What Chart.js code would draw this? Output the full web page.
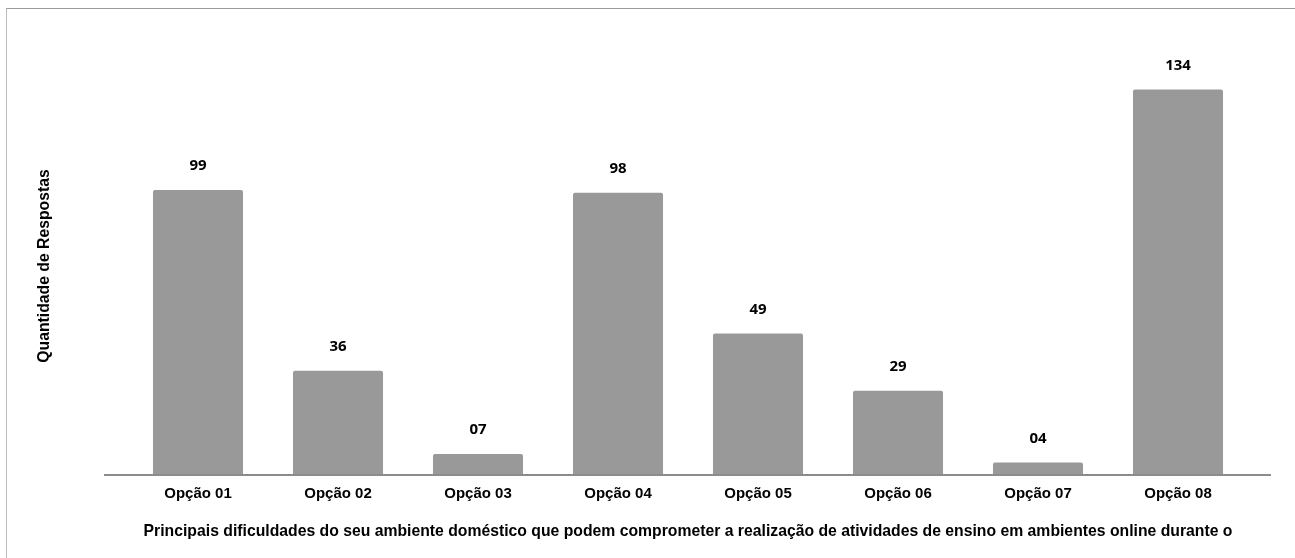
<!DOCTYPE html>
<html>
<head>
<meta charset="utf-8">
<script src="https://cdn.jsdelivr.net/npm/chart.js@4.4.1/dist/chart.umd.min.js"></script>
<style>
  html, body { margin: 0; padding: 0; background: #fff; }
  .wrap { position: relative; width: 1295px; height: 558px; }
  .frame {
    position: absolute; left: 6px; top: 8px; right: 0; bottom: 0;
    border-top: 1px solid #9a9a9a; border-left: 1px solid #bdbdbd;
    pointer-events: none;
  }
</style>
</head>
<body>
<div class="wrap">
  <canvas class="js-chart" width="1295" height="558"></canvas>
  <div class="frame"></div>
</div>
<script>
const ctx = document.querySelector(".js-chart").getContext("2d");

const categories = ["Opção 01", "Opção 02", "Opção 03", "Opção 04", "Opção 05", "Opção 06", "Opção 07", "Opção 08"];
const responses = [99, 36, 7, 98, 49, 29, 4, 134];
const xTitle = "Principais dificuldades do seu ambiente doméstico que podem comprometer a realização de atividades de ensino em ambientes online durante o";
const yTitle = "Quantidade de Respostas";

// value labels above the bars + the grey base line
const barLabels = {
  id: "barLabels",
  afterDatasetsDraw(chart) {
    const c = chart.ctx;
    const area = chart.chartArea;
    c.save();
    c.strokeStyle = "#8c8c8c";
    c.lineWidth = 2;
    c.beginPath();
    c.moveTo(area.left - 24, area.bottom + 1);
    c.lineTo(area.right + 23, area.bottom + 1);
    c.stroke();

    c.fillStyle = "#000";
    c.font = "bold 15px 'Noto Sans'";
    c.textAlign = "center";
    c.textBaseline = "middle";
    chart.getDatasetMeta(0).data.forEach((bar, i) => {
      const text = String(responses[i]).padStart(2, "0");
      c.fillText(text, bar.x, bar.y - 24);
    });
    c.restore();
  },
};

new Chart(ctx, {
  type: "bar",
  data: {
    labels: categories,
    datasets: [
      {
        data: responses,
        backgroundColor: "#999999",
        borderRadius: 2,
        borderSkipped: "bottom",
        barPercentage: 0.643,
        categoryPercentage: 1,
      },
    ],
  },
  options: {
    responsive: false,
    animation: false,
    layout: { padding: { left: 30, right: 47, top: 58, bottom: 16.5 } },
    plugins: {
      legend: { display: false },
      tooltip: { enabled: false },
    },
    scales: {
      x: {
        grid: { display: false },
        border: { display: false },
        ticks: {
          color: "#000",
          padding: 3,
          font: { family: "'Liberation Sans', Arial", size: 15, weight: "bold" },
        },
        title: {
          display: true,
          text: xTitle,
          color: "#000",
          padding: 0,
          font: { family: "'Liberation Sans', Arial", size: 15.75, weight: "bold" },
        },
        afterFit(scale) {
          scale.height = 67.5;
        },
      },
      y: {
        min: 0,
        max: 145,
        grid: { display: false },
        border: { display: false },
        ticks: { display: false },
        title: {
          display: true,
          text: yTitle,
          color: "#000",
          padding: { top: 5.5, bottom: 0 },
          font: { family: "'Liberation Sans', Arial", size: 15.75, weight: "bold" },
        },
        afterFit(scale) {
          scale.width = 98;
        },
      },
    },
  },
  plugins: [barLabels],
});
</script>
</body>
</html>
